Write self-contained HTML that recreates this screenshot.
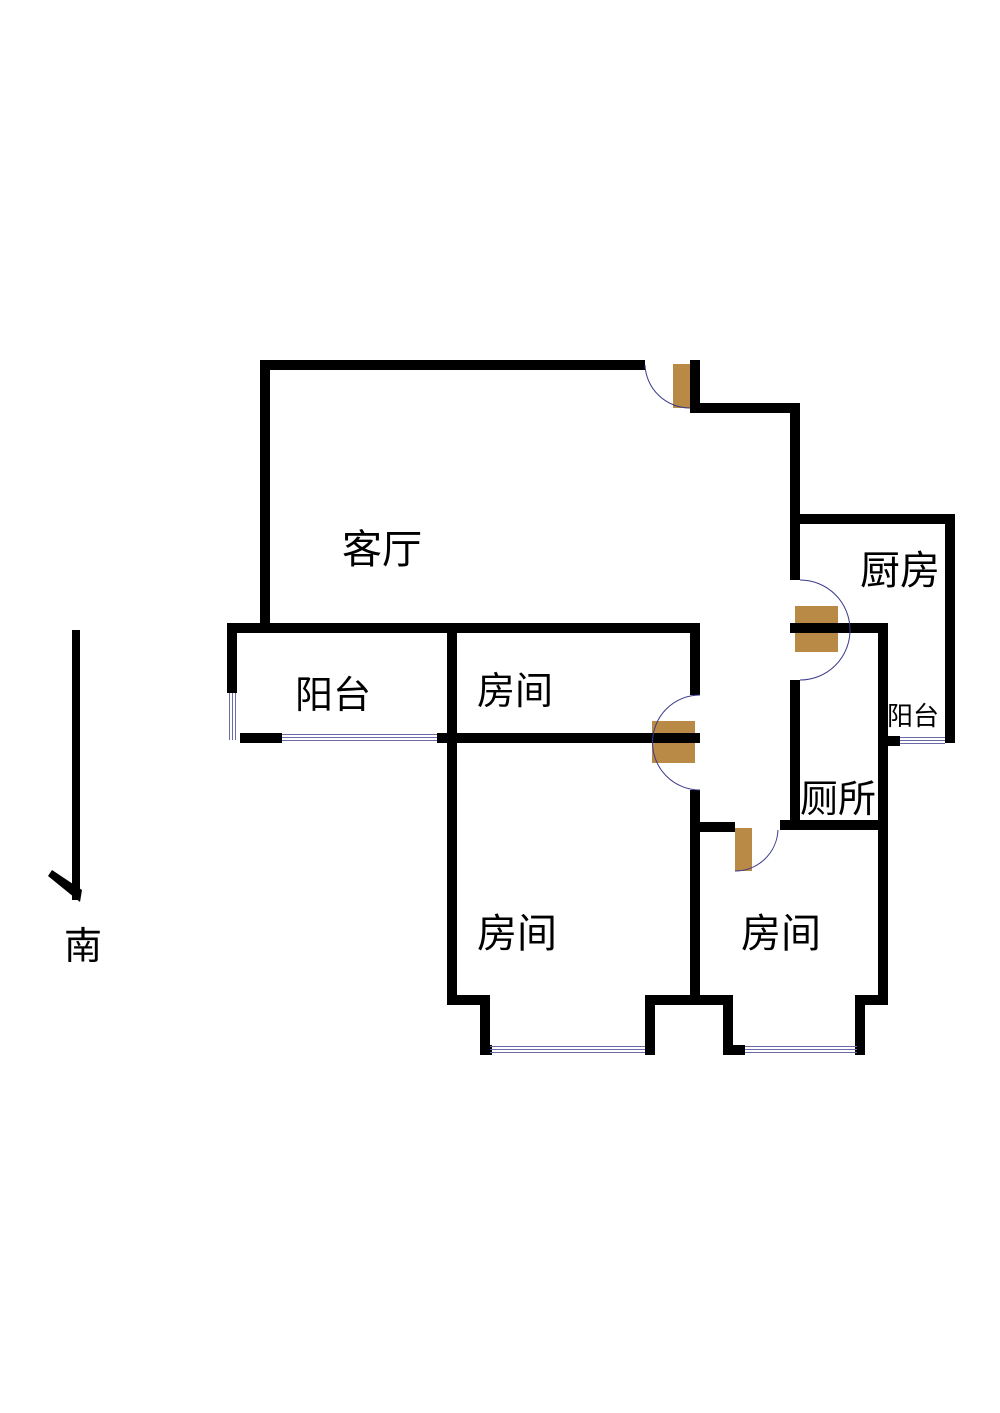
<!DOCTYPE html>
<html><head><meta charset="utf-8"><style>
html,body{margin:0;padding:0;background:#fff;}
svg{display:block;}
text{font-family:"Liberation Sans","Noto Sans CJK SC",sans-serif;fill:#000;}
</style></head><body>
<svg width="1000" height="1413" viewBox="0 0 1000 1413" xmlns="http://www.w3.org/2000/svg">
<g fill="#000">
<!-- living room -->
<rect x="260" y="360" width="385" height="10"/>
<rect x="260" y="360" width="10" height="270"/>
<rect x="690" y="360" width="10" height="53"/>
<rect x="690" y="403" width="110" height="10"/>
<rect x="790" y="403" width="10" height="177"/>
<!-- kitchen -->
<rect x="790" y="514" width="165" height="10"/>
<rect x="945" y="514" width="10" height="229"/>
<rect x="790" y="623" width="98" height="10"/>
<rect x="878" y="623" width="10" height="382"/>
<rect x="790" y="680" width="10" height="150"/>
<rect x="888" y="736" width="12" height="10"/>
<rect x="780" y="820" width="108" height="10"/>
<rect x="690" y="822" width="45" height="10"/>
<!-- balcony & room -->
<rect x="227" y="623" width="473" height="10"/>
<rect x="227" y="623" width="10" height="70"/>
<rect x="240" y="733" width="42" height="10"/>
<rect x="437" y="733" width="263" height="10"/>
<rect x="447" y="625" width="10" height="380"/>
<rect x="690" y="623" width="10" height="72"/>
<rect x="690" y="790" width="10" height="215"/>
<!-- bottom bedroom 2 -->
<rect x="447" y="995" width="43" height="10"/>
<rect x="480" y="995" width="10" height="60"/>
<rect x="480" y="1045" width="12" height="10"/>
<rect x="645" y="995" width="10" height="60"/>
<rect x="645" y="995" width="88" height="10"/>
<!-- bottom bedroom 3 -->
<rect x="723" y="995" width="10" height="60"/>
<rect x="723" y="1045" width="22" height="10"/>
<rect x="855" y="995" width="10" height="60"/>
<rect x="855" y="995" width="33" height="10"/>
<!-- north arrow -->
<rect x="72" y="630" width="8" height="270"/>
<path d="M48 876 L52 870 L82 890 L80 902 Z"/>
</g>
<!-- windows -->
<g stroke="#6a6aa8" stroke-width="1" fill="none">
<path d="M282 734.5H437M282 737.5H437M282 740.5H437"/>
<path d="M229.5 693V740M232.5 693V740M235.5 693V740"/>
<path d="M490 1046.5H645M490 1049.5H645M490 1052.5H645"/>
<path d="M745 1046.5H857M745 1049.5H857M745 1052.5H857"/>
<path d="M900 737.5H945M900 740.5H945M900 743.5H945"/>
</g>
<!-- doors -->
<g fill="#b88a45">
<rect x="673" y="364" width="17" height="44"/>
<rect x="795" y="606" width="43" height="46"/>
<rect x="652" y="721" width="43" height="42"/>
<rect x="735" y="828" width="17" height="43"/>
</g>
<g fill="#000"><rect x="790" y="623" width="48" height="10"/><rect x="652" y="733" width="48" height="10"/></g>
<g stroke="#3a3a8a" stroke-width="1" fill="none">
<path d="M645 365 A45 45 0 0 0 690 408"/>
<path d="M800 580 A50 50 0 0 1 800 680"/>
<path d="M700 695 A47 47 0 0 0 700 790"/>
<path d="M778 830 A43 43 0 0 1 735 871"/>
</g>
<text x="342" y="563" font-size="40">客厅</text>
<text x="860" y="584" font-size="40">厨房</text>
<text x="295" y="708" font-size="38">阳台</text>
<text x="477" y="704" font-size="38">房间</text>
<text x="477" y="947" font-size="40">房间</text>
<text x="741" y="947" font-size="40">房间</text>
<text x="800" y="812" font-size="38">厕所</text>
<text x="887" y="725" font-size="26">阳台</text>
<text x="64" y="959" font-size="38">南</text>
</svg>
</body></html>
